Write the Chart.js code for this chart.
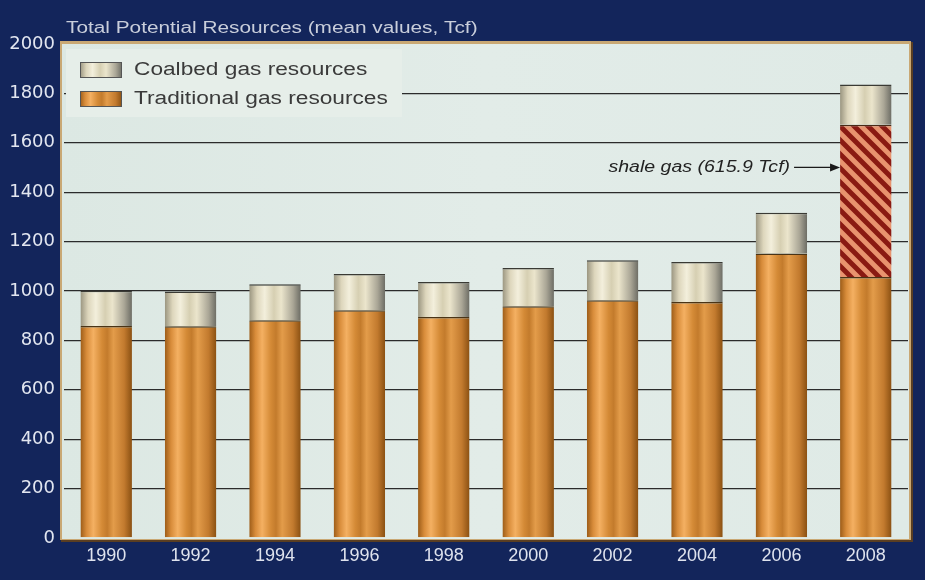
<!DOCTYPE html>
<html>
<head>
<meta charset="utf-8">
<script src="https://cdn.jsdelivr.net/npm/chart.js@4.4.1/dist/chart.umd.min.js"></script>
<style>
  html, body { margin: 0; padding: 0; background: #13255b; }
  #wrap { width: 925px; height: 580px; position: relative; }
</style>
</head>
<body>
<div id="wrap"><canvas id="c" width="925" height="580"></canvas></div>
<script>
// Assessment years
const years = ['1990', '1992', '1994', '1996', '1998', '2000', '2002', '2004', '2006', '2008'];
// Traditional (conventional) gas resources, Tcf
const traditional = [858, 857, 882, 922, 895, 938, 963, 955, 1152, 1057];
// Shale gas, broken out in the 2008 assessment, Tcf
const shale = [0, 0, 0, 0, 0, 0, 0, 0, 0, 615.9];
// Coalbed gas resources, Tcf
const coalbed = [143, 141, 145, 147, 141, 155, 162, 162, 165, 163];
// Value axis ticks
const yTicks = [0, 200, 400, 600, 800, 1000, 1200, 1400, 1600, 1800, 2000];

const TITLE = 'Total Potential Resources (mean values, Tcf)';
const SHALE_LABEL = 'shale gas (' + shale[shale.length - 1] + ' Tcf)';

const CAT_PCT = 0.61;
const SANS = '"Liberation Sans", Arial, sans-serif';

const orangeStops = [
  [0, '#9c5c18'], [0.12, '#d88c3a'], [0.25, '#f4b062'], [0.42, '#d48a36'],
  [0.52, '#c37b2c'], [0.64, '#e39c4a'], [0.85, '#c27a2e'], [1, '#8a5012']
];
const beigeStops = [
  [0, '#9a9580'], [0.15, '#ddd6bc'], [0.3, '#f3efdc'], [0.48, '#d6cfb2'],
  [0.62, '#ebe5cc'], [0.85, '#aaa696'], [1, '#6c6c64']
];

// Horizontal "cylinder" gradient for one bar, from the category scale
function barGradient(stops) {
  return function (ctx) {
    const chart = ctx.chart;
    const xs = chart.scales.x;
    if (!xs || !chart.chartArea || ctx.dataIndex === undefined) return stops[3][1];
    const cx = xs.getPixelForValue(ctx.dataIndex);
    const w = (xs.width / years.length) * CAT_PCT;
    const g = chart.ctx.createLinearGradient(cx - w / 2, 0, cx + w / 2, 0);
    stops.forEach(s => g.addColorStop(s[0], s[1]));
    return g;
  };
}

// Diagonal stripe fill (top-left to bottom-right) for the shale segment
function stripePattern() {
  const p = document.createElement('canvas');
  const s = 14;
  p.width = s; p.height = s;
  const c = p.getContext('2d');
  c.fillStyle = '#e8936e';
  c.fillRect(0, 0, s, s);
  c.strokeStyle = '#8a1a12';
  c.lineWidth = 5;
  c.beginPath();
  for (let k = -2; k <= 2; k++) {
    c.moveTo(k * s - s, -s);
    c.lineTo(k * s + 2 * s, 2 * s);
  }
  c.stroke();
  return c.createPattern(p, 'repeat');
}

// Text drawn a little wider than the font's natural width
function wideText(ctx, text, x, y, sx, align) {
  ctx.save();
  ctx.translate(x, y);
  ctx.scale(sx, 1);
  ctx.textAlign = align || 'left';
  ctx.fillText(text, 0, 0);
  ctx.restore();
}

const plotFrame = {
  id: 'plotFrame',
  beforeDraw(chart) {
    const { ctx, chartArea: a } = chart;
    ctx.save();
    ctx.fillStyle = '#13255b';
    ctx.fillRect(0, 0, chart.width, chart.height);
    const L = a.left - 2, T = a.top, R = a.right + 1, B = a.bottom + 1;
    // brown shadow then tan border
    ctx.fillStyle = '#5a3e22';
    ctx.fillRect(L - 1, T - 2, R - L + 5, B - T + 5);
    ctx.fillStyle = '#c9a874';
    ctx.fillRect(L - 2, T - 3, R - L + 4, B - T + 4);
    const bg = ctx.createLinearGradient(L, 0, R, 0);
    bg.addColorStop(0, '#dce8e3');
    bg.addColorStop(0.5, '#e2ece8');
    bg.addColorStop(1, '#dfeae6');
    ctx.fillStyle = bg;
    ctx.fillRect(L, T, R - L, B - T);
    // title
    ctx.fillStyle = '#c9cedb';
    ctx.font = '16px ' + SANS;
    ctx.textBaseline = 'middle';
    wideText(ctx, TITLE, L + 4, 29, 1.3);
    ctx.restore();
  },
  beforeDatasetsDraw(chart) {
    // legend box sits over the gridlines, under the bars
    const { ctx, chartArea: a } = chart;
    ctx.save();
    const bx = a.left + 2, by = a.top + 5, bw = 336, bh = 68;
    ctx.fillStyle = '#e6eee9';
    ctx.fillRect(bx, by, bw, bh);
    const items = [
      { label: 'Coalbed gas resources', stops: beigeStops, y: by + 21 },
      { label: 'Traditional gas resources', stops: orangeStops, y: by + 50 }
    ];
    items.forEach(it => {
      const sx = bx + 14, sw = 42, sh = 16;
      const g = ctx.createLinearGradient(sx, 0, sx + sw, 0);
      it.stops.forEach(s => g.addColorStop(s[0], s[1]));
      ctx.fillStyle = g;
      ctx.fillRect(sx, it.y - sh / 2, sw, sh);
      ctx.strokeStyle = '#555';
      ctx.lineWidth = 1;
      ctx.strokeRect(sx + 0.5, it.y - sh / 2 + 0.5, sw - 1, sh - 1);
      ctx.fillStyle = '#3a3a3a';
      ctx.font = '18px ' + SANS;
      ctx.textBaseline = 'middle';
      wideText(ctx, it.label, sx + sw + 12, it.y, 1.26);
    });
    ctx.restore();
  },
  afterDatasetsDraw(chart) {
    // callout for the shale segment of the last bar
    const { ctx } = chart;
    const xs = chart.scales.x, ys = chart.scales.y;
    const last = years.length - 1;
    const w = (xs.width / years.length) * CAT_PCT;
    const tipX = xs.getPixelForValue(last) - w / 2;
    const yy = ys.getPixelForValue(traditional[last] + shale[last] * 0.72);
    ctx.save();
    ctx.strokeStyle = '#1a1a1a';
    ctx.fillStyle = '#1a1a1a';
    ctx.lineWidth = 1.3;
    ctx.beginPath();
    ctx.moveTo(tipX - 46, yy);
    ctx.lineTo(tipX - 4, yy);
    ctx.stroke();
    ctx.beginPath();
    ctx.moveTo(tipX, yy);
    ctx.lineTo(tipX - 10, yy - 4);
    ctx.lineTo(tipX - 10, yy + 4);
    ctx.closePath();
    ctx.fill();
    ctx.font = 'italic 16px ' + SANS;
    ctx.textBaseline = 'middle';
    ctx.fillStyle = '#222';
    wideText(ctx, SHALE_LABEL, tipX - 50, yy, 1.22, 'right');
    ctx.restore();
  }
};

const edge = { top: 1.5, left: 0, right: 0, bottom: 0 };

new Chart(document.getElementById('c'), {
  type: 'bar',
  data: {
    labels: years,
    datasets: [
      {
        label: 'Traditional gas resources',
        data: traditional,
        backgroundColor: barGradient(orangeStops),
        borderColor: '#4a3416',
        borderWidth: edge,
        borderSkipped: false
      },
      {
        label: 'Shale gas',
        data: shale,
        backgroundColor: stripePattern(),
        borderColor: '#4a2a16',
        borderWidth: edge,
        borderSkipped: false
      },
      {
        label: 'Coalbed gas resources',
        data: coalbed,
        backgroundColor: barGradient(beigeStops),
        borderColor: '#3a3a34',
        borderWidth: edge,
        borderSkipped: false
      }
    ]
  },
  options: {
    responsive: false,
    animation: false,
    events: [],
    layout: { padding: { left: 0, right: 17, top: 44, bottom: 0 } },
    datasets: { bar: { barPercentage: 1, categoryPercentage: CAT_PCT } },
    plugins: {
      legend: { display: false },
      tooltip: { enabled: false }
    },
    scales: {
      x: {
        stacked: true,
        grid: { display: false, drawTicks: false },
        border: { display: false },
        ticks: {
          color: '#dfe3ee',
          font: { family: '"Liberation Sans Narrow", "Liberation Sans", Arial, sans-serif', size: 18 },
          padding: 7,
          maxRotation: 0
        },
        afterFit(s) { s.height = 42; }
      },
      y: {
        stacked: true,
        min: 0,
        max: 2000,
        afterBuildTicks(s) { s.ticks = yTicks.map(v => ({ value: v })); },
        grid: {
          color: ctx => (ctx.tick && (ctx.tick.value === 0 || ctx.tick.value === 2000)) ? 'rgba(0,0,0,0)' : '#2b2b2b',
          lineWidth: 1.3,
          drawTicks: false
        },
        border: { display: false },
        ticks: {
          color: '#e2e6f0',
          font: { family: '"DejaVu Sans", sans-serif', size: 18 },
          padding: 9,
          callback: v => String(v)
        },
        afterFit(s) { s.width = 64; }
      }
    }
  },
  plugins: [plotFrame]
});
</script>
</body>
</html>
